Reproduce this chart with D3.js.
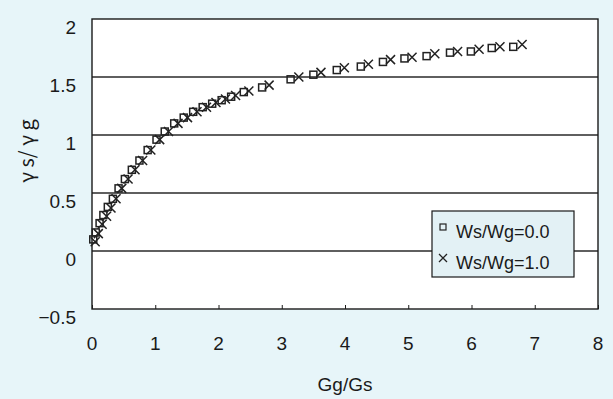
<!DOCTYPE html>
<html>
<head>
<meta charset="utf-8">
<script src="https://cdn.jsdelivr.net/npm/d3@7"></script>
<style>
  body { margin: 0; background: #e7f5f9; }
  text { font-family: "Liberation Sans", Arial, sans-serif; fill: #1a1a1a; }
</style>
</head>
<body>
<div id="canvas"></div>
<script>
// Ws/Wg = 0.0 (squares)
const gg0 = [0.02, 0.06, 0.12, 0.18, 0.25, 0.33, 0.42, 0.52, 0.63, 0.75, 0.88, 1.02, 1.15, 1.30, 1.45, 1.60, 1.75, 1.90, 2.05, 2.20, 2.40, 2.69, 3.14, 3.50, 3.87, 4.25, 4.60, 4.94, 5.29, 5.66, 5.99, 6.32, 6.66];
const ys0 = [0.10, 0.16, 0.24, 0.31, 0.38, 0.45, 0.54, 0.62, 0.70, 0.78, 0.87, 0.96, 1.03, 1.10, 1.15, 1.20, 1.24, 1.27, 1.30, 1.33, 1.37, 1.41, 1.48, 1.52, 1.56, 1.59, 1.63, 1.66, 1.68, 1.71, 1.72, 1.75, 1.76];
// Ws/Wg = 1.0 (crosses)
const gg1 = [0.05, 0.10, 0.16, 0.23, 0.30, 0.38, 0.47, 0.57, 0.68, 0.80, 0.93, 1.07, 1.21, 1.36, 1.51, 1.66, 1.81, 1.96, 2.11, 2.27, 2.48, 2.80, 3.27, 3.62, 3.99, 4.37, 4.72, 5.06, 5.42, 5.78, 6.12, 6.45, 6.80];
const ys1 = [0.08, 0.15, 0.23, 0.30, 0.37, 0.45, 0.54, 0.62, 0.70, 0.78, 0.87, 0.96, 1.03, 1.10, 1.15, 1.20, 1.24, 1.28, 1.31, 1.34, 1.38, 1.43, 1.50, 1.54, 1.58, 1.61, 1.65, 1.67, 1.70, 1.72, 1.74, 1.76, 1.78];

const xTicks = [0, 1, 2, 3, 4, 5, 6, 7, 8];
const yTicks = [-0.5, 0, 0.5, 1, 1.5, 2];
const legendLabels = ["Ws/Wg=0.0", "Ws/Wg=1.0"];

const width = 613;
const height = 399;

const svg = d3.select("#canvas").append("svg")
    .attr("width", width)
    .attr("height", height);

const x = d3.scaleLinear().domain([0, 8]).range([92, 598]);
const y = d3.scaleLinear().domain([-0.5, 2]).range([309, 19]);

// plot area
svg.append("rect")
    .attr("x", x(0)).attr("y", y(2))
    .attr("width", x(8) - x(0)).attr("height", y(-0.5) - y(2))
    .style("fill", "#ffffff");

// gridlines
svg.selectAll(".grid").data(yTicks.filter(d => d > -0.5 && d < 2))
    .enter().append("line")
    .attr("x1", x(0)).attr("x2", x(8))
    .attr("y1", d => y(d)).attr("y2", d => y(d))
    .style("stroke", "#2a2a2a").style("stroke-width", 1.3);

svg.append("rect")
    .attr("x", x(0)).attr("y", y(2))
    .attr("width", x(8) - x(0)).attr("height", y(-0.5) - y(2))
    .style("fill", "none").style("stroke", "#1a1a1a").style("stroke-width", 1.4);

// x axis ticks (inside, upward)
const xAxis = svg.append("g")
    .attr("transform", `translate(0,${y(-0.5)})`)
    .call(d3.axisTop(x).tickValues(xTicks).tickSize(4).tickFormat(""));
xAxis.select(".domain").remove();
xAxis.selectAll("line").style("stroke", "#1a1a1a");

svg.selectAll(".xlab").data(xTicks)
    .enter().append("text")
    .attr("x", d => x(d))
    .attr("y", 350)
    .attr("text-anchor", "middle")
    .style("font-size", "19px")
    .text(d => d);

svg.selectAll(".ylab").data(yTicks)
    .enter().append("text")
    .attr("x", 76)
    .attr("y", d => y(d) + 15)
    .attr("text-anchor", "end")
    .style("font-size", "19px")
    .text(d => d < 0 ? "\u2212" + Math.abs(d) : d);

svg.append("text")
    .attr("x", 345).attr("y", 391)
    .attr("text-anchor", "middle")
    .style("font-size", "19px")
    .text("Gg/Gs");

svg.append("text")
    .attr("transform", "translate(34,151) rotate(-90)")
    .attr("text-anchor", "middle")
    .style("font-size", "20px")
    .style("font-family", "'Noto Sans CJK JP', sans-serif")
    .text("γ s/ γ g");

// markers
const s = 7;
svg.selectAll(".sq").data(d3.range(gg0.length))
    .enter().append("rect")
    .attr("x", i => x(gg0[i]) - s / 2)
    .attr("y", i => y(ys0[i]) - s / 2)
    .attr("width", s).attr("height", s)
    .style("fill", "none").style("stroke", "#222").style("stroke-width", 1.5);

const c = 4.5;
svg.selectAll(".cr").data(d3.range(gg1.length))
    .enter().append("path")
    .attr("d", i => {
        const cx = x(gg1[i]), cy = y(ys1[i]);
        return `M${cx - c},${cy - c}L${cx + c},${cy + c}M${cx - c},${cy + c}L${cx + c},${cy - c}`;
    })
    .style("fill", "none").style("stroke", "#222").style("stroke-width", 1.5);

// legend
const lg = svg.append("g");
lg.append("rect")
    .attr("x", 432).attr("y", 211).attr("width", 142).attr("height", 66)
    .style("fill", "#e3f1f5").style("stroke", "#1a1a1a").style("stroke-width", 1.2);
lg.append("rect")
    .attr("x", 440).attr("y", 224).attr("width", 6).attr("height", 6)
    .style("fill", "none").style("stroke", "#222").style("stroke-width", 1.2);
lg.append("path")
    .attr("d", "M439,254L447,262M439,262L447,254")
    .style("stroke", "#222").style("stroke-width", 1.3);
lg.selectAll(".lt").data(legendLabels)
    .enter().append("text")
    .attr("x", 456)
    .attr("y", (d, i) => 238 + i * 31)
    .style("font-size", "18px")
    .text(d => d);
</script>
</body>
</html>
